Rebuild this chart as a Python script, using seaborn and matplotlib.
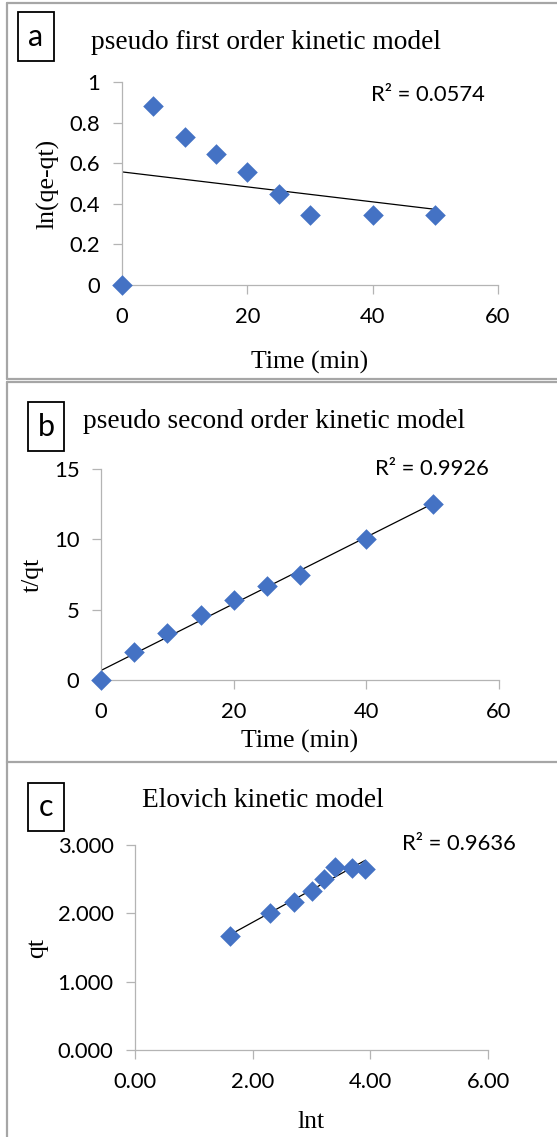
import numpy as np
import pandas as pd
import matplotlib
matplotlib.use("Agg")
import matplotlib.pyplot as plt
import seaborn as sns
from matplotlib.patches import Rectangle
from matplotlib.lines import Line2D

# ---------------- data ----------------
time_min = [0, 5, 10, 15, 20, 25, 30, 40, 50]
ln_qe_qt = [0.0, 0.88, 0.73, 0.645, 0.555, 0.45, 0.345, 0.345, 0.345]
t_over_qt = [0.0, 2.0, 3.33, 4.62, 5.71, 6.67, 7.5, 10.0, 12.5]
lnt = [1.61, 2.30, 2.71, 3.00, 3.22, 3.40, 3.69, 3.91]
qt = [1.667, 2.0, 2.17, 2.33, 2.5, 2.68, 2.67, 2.65]

titles = ["pseudo first order kinetic model",
          "pseudo second order kinetic model",
          "Elovich kinetic model"]
panel_letters = ["a", "b", "c"]
r2_texts = ["R\u00b2 = 0.0574", "R\u00b2 = 0.9926", "R\u00b2 = 0.9636"]
xlabels = ["Time (min)", "Time (min)", "lnt"]
ylabels = ["ln(qe-qt)", "t/qt", "qt"]

a_xticks = [0, 20, 40, 60]
a_yticks = [0, 0.2, 0.4, 0.6, 0.8, 1.0]
a_yticklabels = ["0", "0.2", "0.4", "0.6", "0.8", "1"]
b_xticks = [0, 20, 40, 60]
b_yticks = [0, 5, 10, 15]
c_xticks = [0, 2, 4, 6]
c_xticklabels = ["0.00", "2.00", "4.00", "6.00"]
c_yticks = [0, 1, 2, 3]
c_yticklabels = ["0.000", "1.000", "2.000", "3.000"]

# ---------------- style ----------------
sns.set_theme(style="white")
plt.rcParams["font.family"] = ["Lato", "DejaVu Sans"]

W, H = 557, 1137
fig = plt.figure(figsize=(W / 100, H / 100), dpi=100)
fig.patch.set_facecolor("white")


def fx(x):
    return x / W


def fy(y):
    return 1 - y / H


def add_axes_px(left, right, top, bottom):
    return fig.add_axes([fx(left), fy(bottom), (right - left) / W, (bottom - top) / H])


MARK = "#4472C4"
SPINE = "#B4B4B4"
SERIF = ["Liberation Serif", "DejaVu Serif"]
TICK_FS = 15.8
LABEL_FS = 18.5
TITLE_FS = 19.7

# panel borders
BORDER = "#A6A6A6"
for (x0, y0, x1, y1) in [(7, 379, 600, 379), (7, 382, 600, 382), (7, 761.5, 600, 761.5),
                         (7, 2.5, 600, 2.5)]:
    fig.add_artist(Line2D([fx(x0), fx(x1)], [fy(y0), fy(y1)], color=BORDER, lw=1.6,
                          transform=fig.transFigure))
for (y0, y1) in [(2.5, 379), (382, 761.5), (761.5, 1140)]:
    fig.add_artist(Line2D([fx(7), fx(7)], [fy(y0), fy(y1)], color=BORDER, lw=1.6,
                          transform=fig.transFigure))

axes_px = [(122, 498, 82, 285), (101, 499, 469, 680), (135, 488, 845, 1050)]
datasets = [(time_min, ln_qe_qt), (time_min, t_over_qt), (lnt, qt)]
xlims = [(0, 60), (0, 60), (0, 6)]
ylims = [(0, 1), (0, 15), (0, 3)]
xtick_sets = [(a_xticks, [str(v) for v in a_xticks]),
              (b_xticks, [str(v) for v in b_xticks]),
              (c_xticks, c_xticklabels)]
ytick_sets = [(a_yticks, a_yticklabels),
              (b_yticks, [str(v) for v in b_yticks]),
              (c_yticks, c_yticklabels)]
xlabel_y = [-0.38, -0.289, -0.351]
ylabel_x = [-0.197, -0.171, -0.278]
box_px = [(18, 12, 54, 61), (28, 402, 64, 451), (28, 783, 64, 831)]
title_px = [(91, 49.3), (83, 428), (142, 806.7)]
r2_px = [(371, 100.7), (375, 475), (402, 850)]

for i in range(3):
    ax = add_axes_px(*axes_px[i])
    x, y = datasets[i]
    df = pd.DataFrame({"x": x, "y": y})
    sns.regplot(data=df, x="x", y="y", ax=ax, scatter=False, ci=None,
                line_kws=dict(color="black", lw=0.9, zorder=2))
    sns.scatterplot(data=df, x="x", y="y", ax=ax, marker="D", s=110, color=MARK,
                    edgecolor=MARK, linewidth=0, zorder=3, clip_on=False)
    ax.set_xlim(*xlims[i])
    ax.set_ylim(*ylims[i])
    ax.set_xticks(xtick_sets[i][0])
    ax.set_xticklabels(xtick_sets[i][1])
    ax.set_yticks(ytick_sets[i][0])
    ax.set_yticklabels(ytick_sets[i][1])
    for s in ["top", "right"]:
        ax.spines[s].set_visible(False)
    for s in ["left", "bottom"]:
        ax.spines[s].set_color(SPINE)
        ax.spines[s].set_linewidth(0.9)
    ax.tick_params(axis="both", which="major", direction="out", length=6.5, width=0.9,
                   color=SPINE, labelsize=TICK_FS, labelcolor="black", pad=9,
                   bottom=True, left=True)
    ax.set_facecolor("none")
    ax.set_xlabel(xlabels[i], fontsize=LABEL_FS, family=SERIF, va="center", color="black")
    ax.xaxis.set_label_coords(0.5, xlabel_y[i])
    ax.set_ylabel(ylabels[i], fontsize=LABEL_FS, family=SERIF, va="center", color="black")
    ax.yaxis.set_label_coords(ylabel_x[i], 0.5)

    # panel letter box
    bx0, by0, bx1, by1 = box_px[i]
    fig.add_artist(Rectangle((fx(bx0), fy(by1)), (bx1 - bx0) / W, (by1 - by0) / H,
                             transform=fig.transFigure, fill=False, edgecolor="black",
                             lw=1.3))
    fig.text(fx((bx0 + bx1) / 2), fy((by0 + by1) / 2), panel_letters[i], ha="center",
             va="center", fontsize=22, color="black")
    # title
    tx, ty = title_px[i]
    fig.text(fx(tx), fy(ty), titles[i], ha="left", va="baseline", fontsize=TITLE_FS,
             family=SERIF, color="black")
    # R^2
    rx, ry = r2_px[i]
    fig.text(fx(rx), fy(ry), r2_texts[i], ha="left", va="baseline", fontsize=TICK_FS,
             color="black")

fig.savefig("out.png", dpi=100, facecolor="white")
